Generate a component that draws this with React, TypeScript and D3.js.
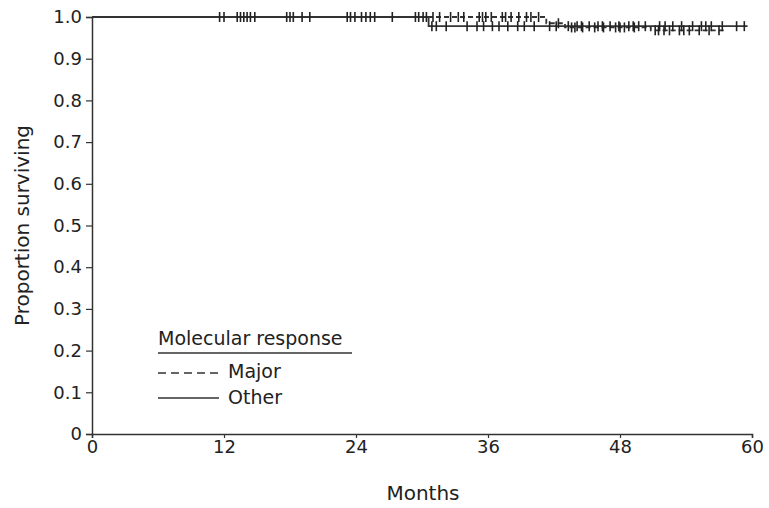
import React, { useEffect, useRef } from 'react';
import * as d3 from 'd3';

// survival steps: [time, proportion]
const majorSteps: [number, number][] = [
  [0, 1.0], [41.3, 0.985], [43.0, 0.975], [50.8, 0.968], [57.6, 0.968],
];
const otherSteps: [number, number][] = [
  [0, 1.0], [30.6, 0.978], [59.6, 0.978],
];

// censored observations (months)
const majorCensored = [
  11.6, 12.0, 13.2, 13.5, 13.8, 14.1, 14.4, 14.8, 17.7, 18.0, 18.3, 19.1, 19.8,
  23.2, 23.5, 23.9, 24.5, 24.9, 25.3, 25.7, 27.3, 29.4, 29.7, 30.1, 30.4,
  31.0, 31.6, 32.6, 33.3, 33.8, 35.2, 35.5, 35.8, 36.3, 37.3, 37.6, 38.1, 38.8,
  39.5, 39.9, 40.6, 42.4, 43.6, 43.9, 44.6, 45.7, 46.5, 47.6, 48.0, 48.4, 49.3,
  51.2, 51.5, 52.0, 52.5, 53.4, 53.8, 54.3, 55.2, 56.1, 57.0,
];
const otherCensored = [
  30.9, 31.3, 32.2, 34.1, 35.0, 35.6, 36.4, 37.0, 37.8, 38.7, 39.3, 40.2,
  41.6, 42.2, 43.3, 44.1, 44.5, 45.2, 46.0, 46.4, 47.1, 47.9, 48.8, 49.2, 49.7,
  50.3, 51.6, 52.1, 52.8, 53.6, 54.6, 55.4, 55.8, 56.3, 57.3, 58.6, 59.3,
];

const xTicks = [0, 12, 24, 36, 48, 60];
const yTicks = [0, 0.1, 0.2, 0.3, 0.4, 0.5, 0.6, 0.7, 0.8, 0.9, 1.0];

const W = 769;
const H = 508;
const margin = { top: 17, right: 17, bottom: 74, left: 92 };
const FONT = '"DejaVu Sans", sans-serif';
const INK = '#222';
const LINE = '#333';

const App = () => {
  const svgRef = useRef<SVGSVGElement>(null);

  useEffect(() => {
    const svg = d3.select(svgRef.current);
    svg.selectAll('*').remove();

    const x = d3.scaleLinear().domain([0, 60]).range([margin.left, W - margin.right]);
    const y = d3.scaleLinear().domain([0, 1]).range([H - margin.bottom, margin.top]);

    // axes
    const xAxis = svg.append('g')
      .attr('transform', `translate(0,${y(0)})`)
      .call(d3.axisBottom(x).tickValues(xTicks).tickSize(4).tickPadding(2).tickFormat(d3.format('d')));
    const yAxis = svg.append('g')
      .attr('transform', `translate(${x(0)},0)`)
      .call(d3.axisLeft(y).tickValues(yTicks).tickSize(6).tickPadding(4)
        .tickFormat(d => (+d === 0 ? '0' : d3.format('.1f')(+d))));
    [xAxis, yAxis].forEach(g => {
      g.select('.domain').attr('stroke', LINE).attr('stroke-width', 1.5);
      g.selectAll('.tick line').attr('stroke', LINE).attr('stroke-width', 1.2);
      g.selectAll('text').attr('font-family', FONT).attr('font-size', 18).attr('fill', INK);
    });

    // curves
    const line = d3.line<[number, number]>()
      .x(d => x(d[0]))
      .y(d => y(d[1]))
      .curve(d3.curveStepAfter);

    svg.append('path')
      .datum(otherSteps)
      .attr('d', line)
      .attr('fill', 'none')
      .attr('stroke', LINE)
      .attr('stroke-width', 1.8);

    svg.append('path')
      .datum(majorSteps)
      .attr('d', line)
      .attr('fill', 'none')
      .attr('stroke', LINE)
      .attr('stroke-width', 1.8)
      .attr('stroke-dasharray', '5,3');

    const valueAt = (steps: [number, number][], t: number) => {
      let v = steps[0][1];
      steps.forEach(s => { if (s[0] <= t) v = s[1]; });
      return v;
    };

    const drawCensor = (times: number[], steps: [number, number][]) => {
      svg.append('g')
        .selectAll('line')
        .data(times)
        .enter()
        .append('line')
        .attr('x1', d => x(d))
        .attr('x2', d => x(d))
        .attr('y1', d => y(valueAt(steps, d)) - 5)
        .attr('y2', d => y(valueAt(steps, d)) + 5)
        .attr('stroke', INK)
        .attr('stroke-width', 1.6);
    };
    drawCensor(majorCensored, majorSteps);
    drawCensor(otherCensored, otherSteps);

    // axis titles
    svg.append('text')
      .attr('x', 423)
      .attr('y', 500)
      .attr('text-anchor', 'middle')
      .attr('font-family', FONT)
      .attr('font-size', 20)
      .attr('fill', INK)
      .text('Months');

    svg.append('text')
      .attr('transform', `translate(29,${(y(0) + y(1)) / 2}) rotate(-90)`)
      .attr('text-anchor', 'middle')
      .attr('font-family', FONT)
      .attr('font-size', 20)
      .attr('fill', INK)
      .text('Proportion surviving');

    // legend
    const lg = svg.append('g').attr('font-family', FONT).attr('font-size', 19).attr('fill', INK);
    lg.append('text').attr('x', 158).attr('y', 345).text('Molecular response');
    lg.append('line').attr('x1', 158).attr('x2', 352).attr('y1', 353).attr('y2', 353)
      .attr('stroke', LINE).attr('stroke-width', 1.5);
    lg.append('line').attr('x1', 158).attr('x2', 219).attr('y1', 373).attr('y2', 373)
      .attr('stroke', LINE).attr('stroke-width', 1.3).attr('stroke-dasharray', '8,5');
    lg.append('text').attr('x', 228).attr('y', 378).text('Major');
    lg.append('line').attr('x1', 158).attr('x2', 219).attr('y1', 398).attr('y2', 398)
      .attr('stroke', LINE).attr('stroke-width', 1.3);
    lg.append('text').attr('x', 228).attr('y', 404).text('Other');
  }, []);

  return (
    <svg ref={svgRef} width={W} height={H}
      style={{ position: 'absolute', left: 0, top: 0, background: '#fff' }} />
  );
};

export default App;
